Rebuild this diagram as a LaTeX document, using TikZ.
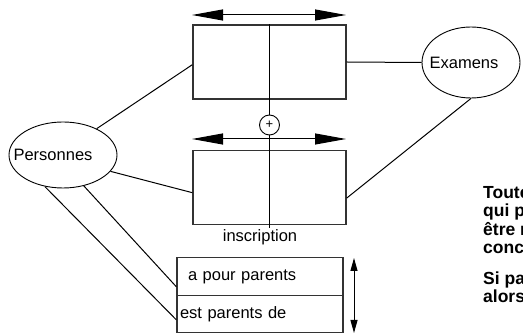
\documentclass[tikz,border=0pt]{standalone}
\usepackage{fontspec}
\setmainfont{Liberation Sans}
\usetikzlibrary{shapes.geometric,arrows.meta,positioning}

\begin{document}
\begin{tikzpicture}[
    x=1pt, y=-1pt,
    font=\fontsize{16.5}{19}\selectfont,
    box/.style={rectangle, draw=black!80, line width=1.3pt, minimum width=153pt, minimum height=74pt},
    relbox/.style={rectangle, draw=black!80, line width=1.3pt, minimum width=166pt, minimum height=37.5pt, text width=152pt, inner xsep=7pt, align=left},
    entity/.style={ellipse, draw, line width=0.9pt, inner sep=0pt},
    link/.style={line width=1pt},
    bigarrow/.style={line width=1pt, {Triangle[length=31pt,width=11pt]}-{Triangle[length=31pt,width=11pt]}},
    smallarrow/.style={line width=1pt, {Triangle[length=13pt,width=7pt]}-{Triangle[length=13pt,width=7pt]}}
]
\clip (0,0) rectangle (523,336);

% classes and association
\node[box] (topbox) at (269.5,62) {};
\node[box, below=50pt of topbox] (botbox) {};
\node[circle, draw, line width=0.9pt, minimum size=20pt, inner sep=0pt, font=\fontsize{13}{13}\selectfont] (plus) at (269.5,125) {\raisebox{-2pt}{+}};
\coordinate (stem) at (269.5,228);
\node (inscr) at (260,237) {inscription};

% entities
\node[entity, minimum width=108pt, minimum height=66pt, label={[xshift=-10pt]center:Personnes}] (pers) at (63,155) {};
\node[entity, minimum width=98pt, minimum height=71pt, label={[xshift=-7pt]center:Examens}] (exam) at (471,62.5) {};

% reflexive association
\node[relbox] (parents) at (260,276.5) {\hspace*{4pt}a pour parents};
\node[relbox, below=-1.3pt of parents] (enfants) {\hspace*{-4pt}est parents de};

% arrows
\coordinate (tl) at (192,15);
\coordinate (tr) at (346,15);
\coordinate (bl) at (192,139);
\coordinate (br) at (346,139);
\coordinate (vt) at (354,258);
\coordinate (vb) at (354,333);
\draw[bigarrow] (tl) -- (tr);
\draw[bigarrow] (bl) -- (br);
\draw[smallarrow] (vt) -- (vb);

% links
\draw[link] (topbox.north) -- (plus);
\draw[link] (plus) -- (stem);
\draw[link] (pers.38) -- (topbox.182);
\draw[link] (pers.-19) -- (botbox.184);
\draw[link] (pers.-56) -- (parents.187);
\draw[link] (pers.-120) -- (enfants.184);
\draw[link] (topbox.east) -- (exam.west);
\draw[link] (botbox.-8) -- (exam.south);

% note
\node[anchor=north west, align=left, inner sep=0pt, font=\bfseries\fontsize{17.5}{18.5}\selectfont] (note) at (483,186) {Toute\\qui p\\être r\\conc\\[12pt]Si pa\\alors};
\end{tikzpicture}
\end{document}
